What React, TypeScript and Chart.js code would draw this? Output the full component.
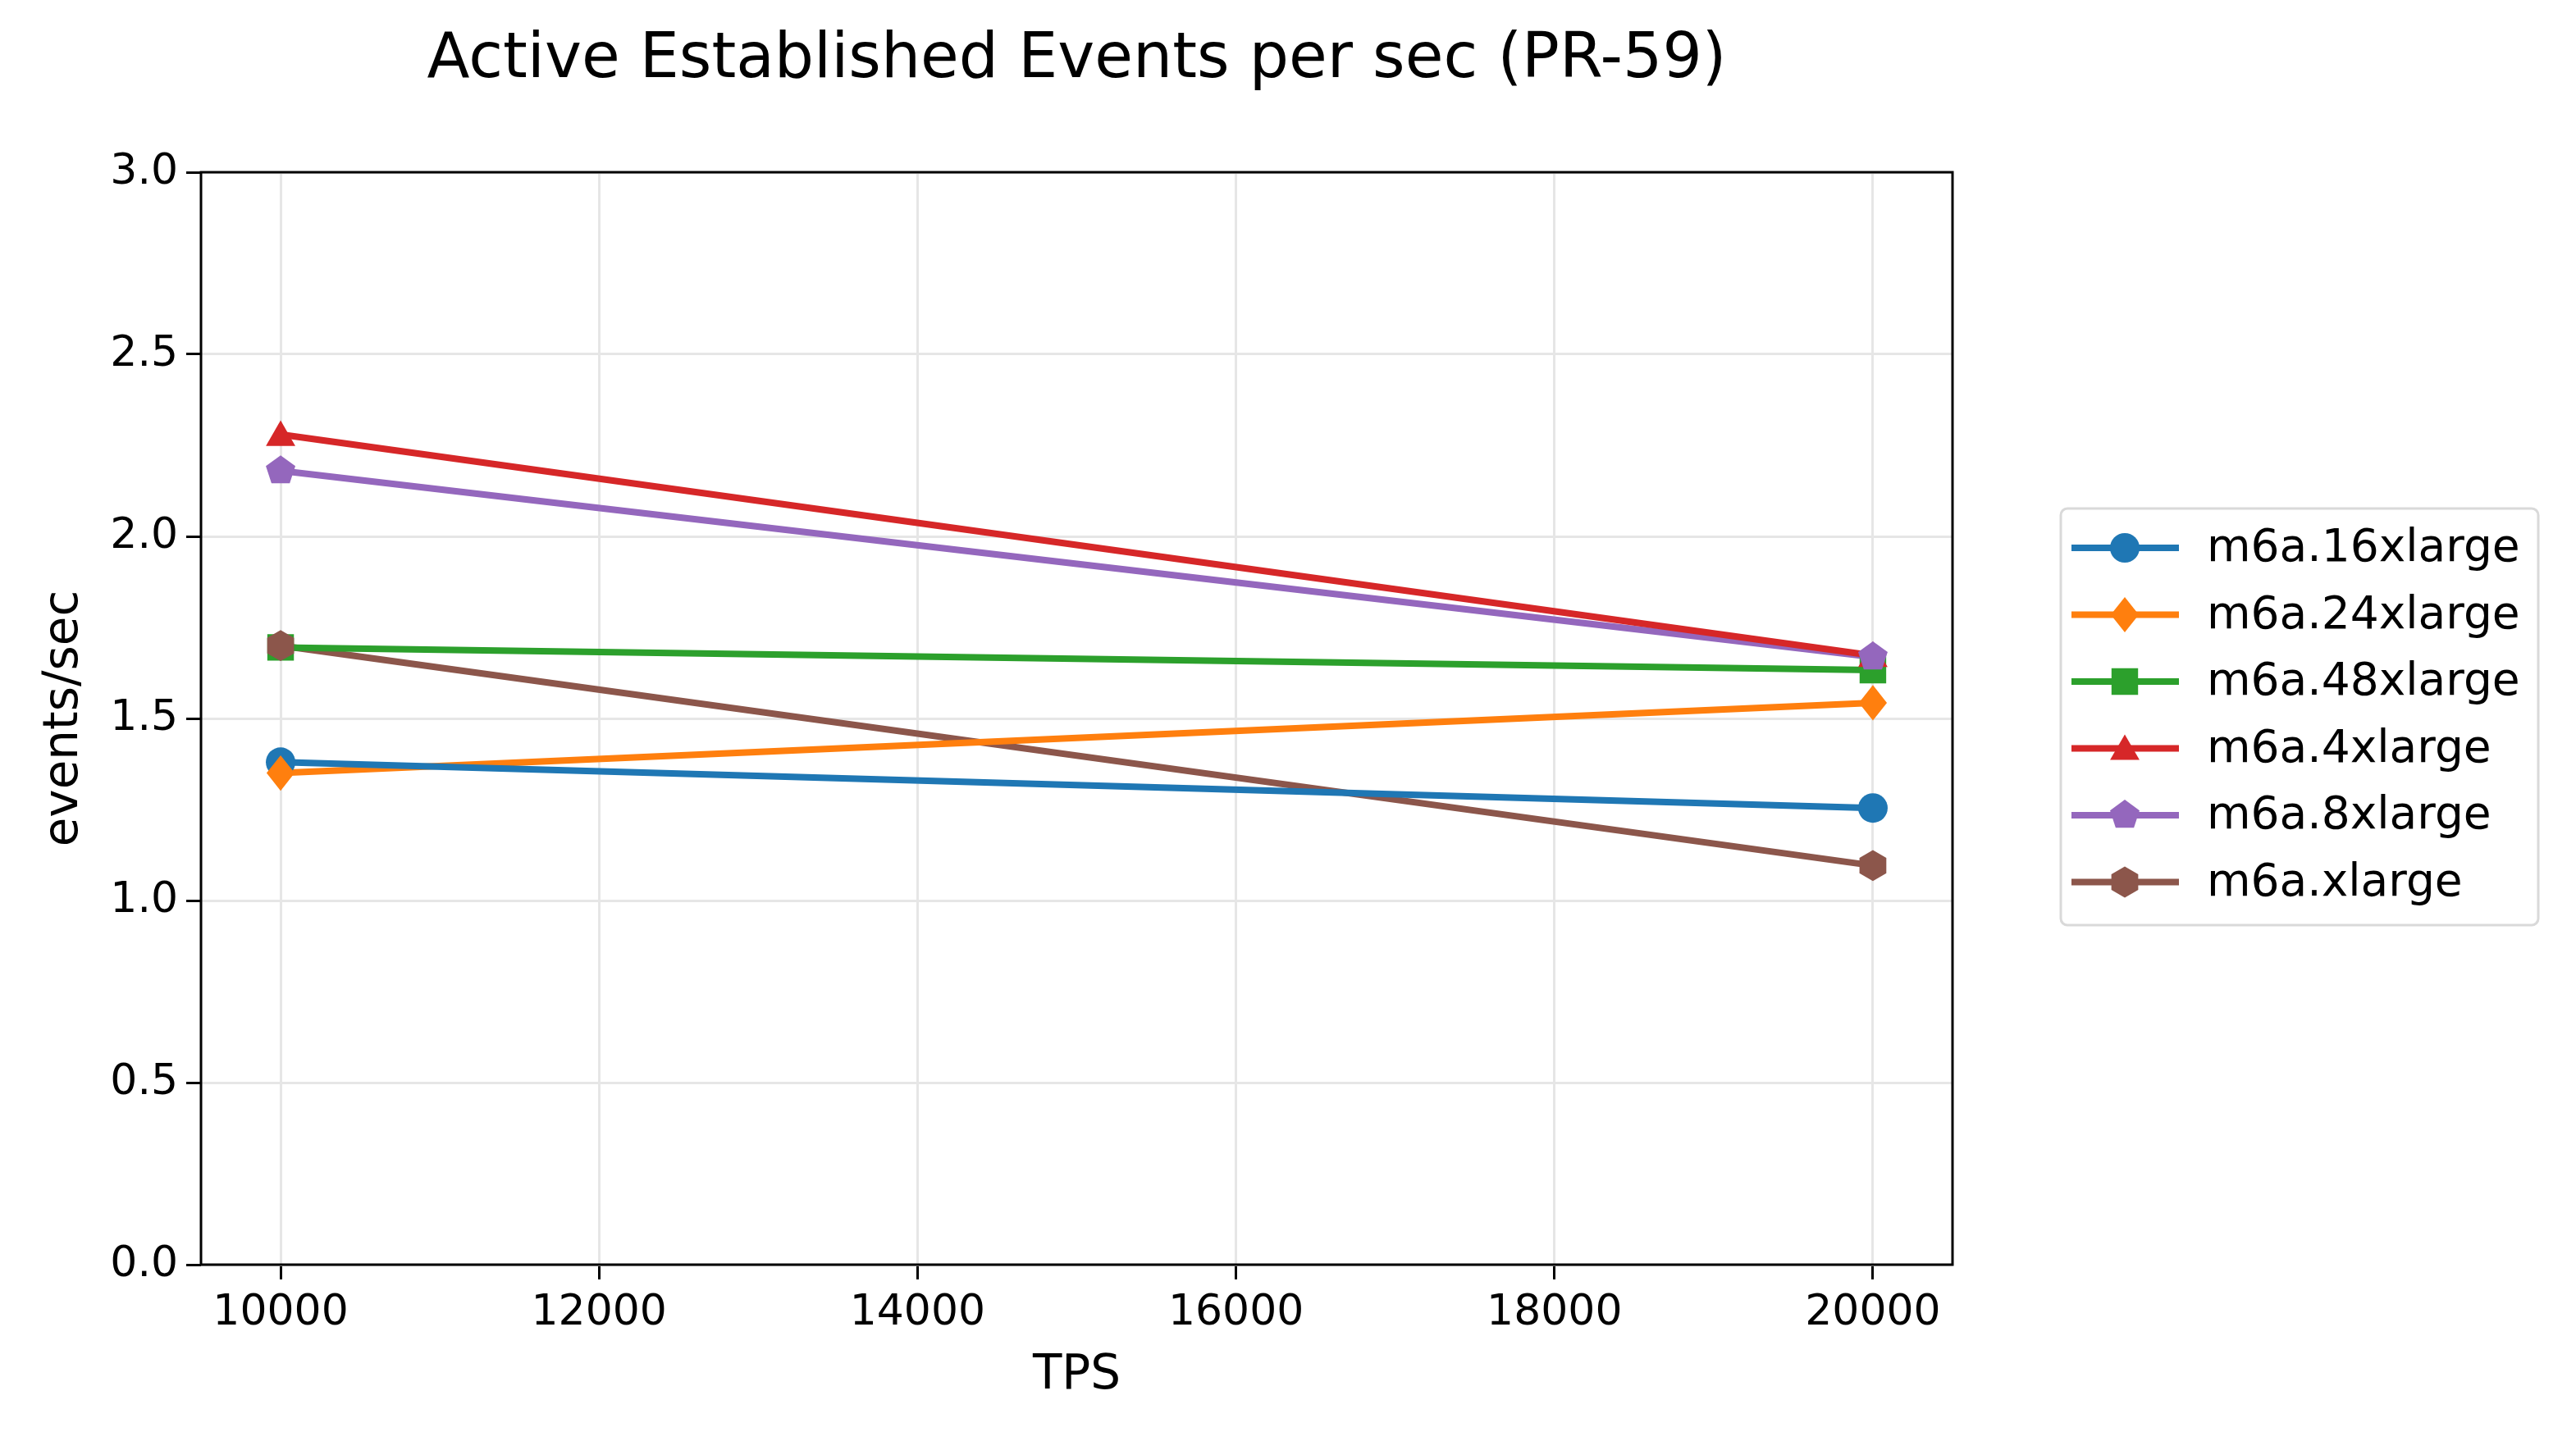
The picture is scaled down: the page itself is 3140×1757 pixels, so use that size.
import React, { useEffect, useRef } from "react";
import { Chart, registerables } from "chart.js";
Chart.register(...registerables);

const xValues = [10000, 20000];
const seriesNames = ["m6a.16xlarge", "m6a.24xlarge", "m6a.48xlarge", "m6a.4xlarge", "m6a.8xlarge", "m6a.xlarge"];
const s16 = [1.38, 1.254];
const s24 = [1.35, 1.543];
const s48 = [1.695, 1.633];
const s4 = [2.28, 1.673];
const s8 = [2.18, 1.669];
const sx = [1.70, 1.096];
const seriesValues = [s16, s24, s48, s4, s8, sx];
const colors = ["#1f77b4", "#ff7f0e", "#2ca02c", "#d62728", "#9467bd", "#8c564b"];
const markers = ["circle", "diamond", "square", "triangle", "pentagon", "hexagon"];
const xTicks = [10000, 12000, 14000, 16000, 18000, 20000];
const yTicks = [0, 0.5, 1.0, 1.5, 2.0, 2.5, 3.0];

const FONT = "'DejaVu Sans', sans-serif";

function drawMarker(ctx: CanvasRenderingContext2D, kind: string, x: number, y: number, r: number, color: string) {
  ctx.save();
  ctx.fillStyle = color;
  ctx.beginPath();
  if (kind === "circle") ctx.arc(x, y, r, 0, Math.PI * 2);
  else if (kind === "diamond") {
    ctx.moveTo(x, y - r * 1.2); ctx.lineTo(x + r * 0.95, y); ctx.lineTo(x, y + r * 1.2); ctx.lineTo(x - r * 0.95, y);
  } else if (kind === "square") ctx.rect(x - r * 0.9, y - r * 0.9, r * 1.8, r * 1.8);
  else {
    const n = kind === "triangle" ? 3 : kind === "pentagon" ? 5 : 6;
    const rr = kind === "triangle" ? r * 1.15 : r * 1.05;
    for (let i = 0; i < n; i++) {
      const a = -Math.PI / 2 + (i * 2 * Math.PI) / n;
      const px = x + rr * Math.cos(a), py = y + rr * Math.sin(a) + (kind === "triangle" ? r * 0.2 : 0);
      i === 0 ? ctx.moveTo(px, py) : ctx.lineTo(px, py);
    }
  }
  ctx.closePath();
  ctx.fill();
  ctx.restore();
}

const customPlugin = {
  id: "custom",
  afterDatasetsDraw(chart: any) {
    const ctx = chart.ctx as CanvasRenderingContext2D;
    const { left, right, top, bottom } = chart.chartArea;
    const xs = chart.scales.x, ys = chart.scales.y;
    seriesValues.forEach((vals, i) => {
      vals.forEach((v, j) => drawMarker(ctx, markers[i], xs.getPixelForValue(xValues[j]), ys.getPixelForValue(v), 18, colors[i]));
    });
    ctx.save();
    ctx.strokeStyle = "#000";
    ctx.lineWidth = 3;
    ctx.strokeRect(left, top, right - left, bottom - top);
    ctx.fillStyle = "#000";
    ctx.font = `76px ${FONT}`;
    ctx.textAlign = "center";
    ctx.textBaseline = "middle";
    ctx.fillText("Active Established Events per sec (PR-59)", (left + right) / 2, 74);
    const bx = 2512, by = 620, bw = 582, bh = 508;
    ctx.fillStyle = "#fff";
    ctx.strokeStyle = "#d9d9d9";
    ctx.lineWidth = 3;
    ctx.beginPath();
    (ctx as any).roundRect(bx, by, bw, bh, 8);
    ctx.fill();
    ctx.stroke();
    ctx.font = `55px ${FONT}`;
    ctx.textAlign = "left";
    seriesNames.forEach((name, i) => {
      const y = 668 + i * 81.5;
      ctx.strokeStyle = colors[i];
      ctx.lineWidth = 8;
      ctx.beginPath(); ctx.moveTo(2525, y); ctx.lineTo(2656, y); ctx.stroke();
      drawMarker(ctx, markers[i], 2590, y, 18, colors[i]);
      ctx.fillStyle = "#000";
      ctx.fillText(name, 2690, y + 2);
    });
    ctx.restore();
  },
};

export default function App() {
  const ref = useRef<HTMLCanvasElement>(null);
  useEffect(() => {
    document.body.style.margin = "0";
    const chart = new Chart(ref.current!, {
      type: "line",
      data: {
        datasets: seriesNames.map((n, i) => ({
          label: n,
          data: xValues.map((x, j) => ({ x, y: seriesValues[i][j] })),
          borderColor: colors[i],
          backgroundColor: colors[i],
          borderWidth: 8,
          pointRadius: 0,
          fill: false,
        })),
      },
      options: {
        animation: false,
        responsive: false,
        devicePixelRatio: 1,
        layout: { padding: { left: 40, top: 210, right: 760, bottom: 40 } },
        plugins: { legend: { display: false }, tooltip: { enabled: false } },
        scales: {
          x: {
            type: "linear", min: 9500, max: 20500,
            afterBuildTicks: (s: any) => { s.ticks = xTicks.map((v) => ({ value: v })); },
            afterFit: (s: any) => { s.height = 175; },
            grid: { color: "#e6e6e6", lineWidth: 3, tickColor: "#000", tickLength: 18, drawTicks: true },
            border: { display: false },
            ticks: { color: "#000", font: { family: FONT, size: 52 }, padding: 10, maxRotation: 0, callback: (v: any) => String(v) },
            title: { display: true, text: "TPS", color: "#000", font: { family: FONT, size: 58 }, padding: { top: 0 } },
          },
          y: {
            min: 0, max: 3,
            afterBuildTicks: (s: any) => { s.ticks = yTicks.map((v) => ({ value: v })); },
            afterFit: (s: any) => { s.width = 205; },
            grid: { color: "#e6e6e6", lineWidth: 3, tickColor: "#000", tickLength: 18 },
            border: { display: false },
            ticks: { color: "#000", font: { family: FONT, size: 52 }, padding: 10, callback: (v: any) => Number(v).toFixed(1) },
            title: { display: true, text: "events/sec", color: "#000", font: { family: FONT, size: 58 }, padding: { bottom: 4 } },
          },
        },
      },
      plugins: [customPlugin],
    } as any);
    return () => chart.destroy();
  }, []);
  return <canvas ref={ref} width={3140} height={1757} style={{ display: "block" }} />;
}
